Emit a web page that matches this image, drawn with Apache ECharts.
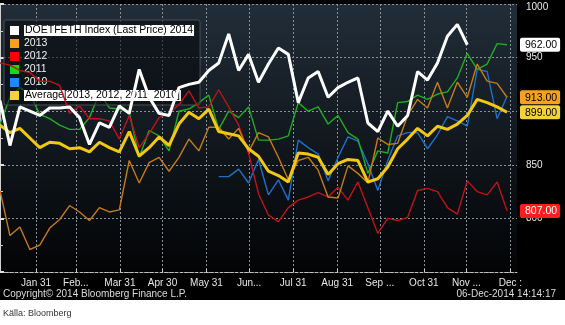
<!DOCTYPE html>
<html><head><meta charset="utf-8">
<script src="https://cdn.jsdelivr.net/npm/echarts@6/dist/echarts.min.js"></script>
<style>html,body{margin:0;padding:0;background:#fff}#c{width:565px;height:325px}</style>
</head><body><div id="c"></div>
<script>
// weekly observation index (week 0 = first week of January)
const weekIndex = Array.from({length: 52}, (_, i) => i);
// month-end day numbers and their labels
const monthEndDays = [31, 59, 90, 120, 151, 181, 212, 243, 273, 304, 334, 365];
const monthLabels = ['Jan 31', 'Feb...', 'Mar 31', 'Apr 30', 'May 31', 'Jun...', 'Jul 31', 'Aug 31', 'Sep ...', 'Oct 31', 'Nov ...', 'Dec :'];
const firstObsDay = 5.6;
const monthTickPos = monthEndDays.map(d => (d - firstObsDay) / 7);

const s2014 = [910,868,904,900,896,903,903,904,894,869,889,885,905,898,939,913,898,896,922,925,927,938,945,972,938,953,927,944,959,953,908,931,937,913,922,927,931,889,881,900,886,896,937,929,945,970,981,962];
const s2013 = [826,784,792,771,775,791,799,812,806,798,810,806,808,854,833,852,857,844,857,874,863,885,885,874,884,862,880,876,857,836,854,857,845,820,819,849,842,833,875,869,870,896,911,903,927,903,927,913,944,928,926,913];
const s2012 = [945,943,938,936,928,928,924,898,905,893,893,891,874,896,866,879,894,898,906,919,903,904,920,904,887,861,823,803,797,810,817,820,824,820,829,817,834,810,786,800,798,801,826,828,825,810,804,835,825,822,834,807];
const s2011 = [888,913,922,916,897,893,887,883,883,894,917,903,902,899,857,882,877,863,900,902,908,915,883,900,894,904,873,873,874,877,908,900,904,888,896,880,874,842,863,861,908,909,915,911,916,918,931,954,939,944,963,962];
const s2010 = [null,null,null,null,null,null,null,null,null,null,null,null,null,null,null,null,null,null,null,null,null,null,839,839,846,833,855,822,836,817,873,866,860,835,857,876,872,851,826,854,877,880,880,865,878,895,891,886,939,937,893,914];
const sAvg = [887,880,884,875,866,871,870,865,866,862,871,866,862,881,858,866,876,868,888,899,893,902,881,879,877,865,858,844,840,834,861,860,857,841,851,855,854,834,837,848,865,874,884,877,886,883,888,896,911,908,904,899];

const yTicks = [750, 800, 850, 900, 950, 1000];

const N2014 = 'DOETFETH Index (Last Price) 2014';
const NAVG = 'Average[2013, 2012, 2011, 2010]';

function pairs(arr) { return arr.map((v, i) => [weekIndex[i], v]); }
function lastVal(arr) { for (let i = arr.length - 1; i >= 0; i--) if (arr[i] != null) return arr[i]; return null; }

const lastLabels = [
  {v: lastVal(s2014), key: 'w'},
  {v: lastVal(s2013), key: 'o'},
  {v: lastVal(sAvg), key: 'y'},
  {v: lastVal(s2012), key: 'r'}
];

const FONT = '"Liberation Sans", Arial, sans-serif';
const chart = echarts.init(document.getElementById('c'), null, {renderer: 'canvas'});

function line(name, data, color, lineColor, width, z) {
  return {
    name, type: 'line', data: pairs(data), showSymbol: false, symbol: 'none',
    itemStyle: {color}, lineStyle: {color: lineColor, width}, z, connectNulls: false,
    emphasis: {disabled: true}, animation: false
  };
}

const boxStyle = (bg, fg) => ({backgroundColor: bg, color: fg, padding: [2, 3, 1, 5], borderRadius: 2, fontSize: 10.5, fontFamily: FONT});

chart.setOption({
  backgroundColor: '#ffffff',
  animation: false,
  textStyle: {fontFamily: FONT},
  graphic: [
    {type: 'rect', shape: {x: 0, y: 0, width: 565, height: 300}, style: {fill: '#000'}, z: -100, silent: true},
    {type: 'text', left: 3, top: 289, style: {text: 'Copyright\u00a9 2014 Bloomberg Finance L.P.', fill: '#dcdcdc', font: '10px ' + FONT}},
    {type: 'text', right: 9, top: 289, style: {text: '06-Dec-2014 14:14:17', fill: '#dcdcdc', font: '10px ' + FONT}},
    {type: 'text', left: 3, top: 309, style: {text: 'Källa: Bloomberg', fill: '#333', font: '9px ' + FONT}}
  ],
  grid: {
    left: 0, right: 48, top: 4, bottom: 53, show: true, borderWidth: 0,
    backgroundColor: {type: 'linear', x: 0, y: 0, x2: 0, y2: 1,
      colorStops: [{offset: 0, color: '#212d38'}, {offset: 0.55, color: '#10161c'}, {offset: 1, color: '#030405'}]}
  },
  legend: {
    orient: 'vertical', left: 4, top: 20, padding: [5, 6, 4, 6],
    itemWidth: 9, itemHeight: 9, itemGap: 2,
    backgroundColor: 'rgba(8,10,12,0.55)', borderColor: '#4a4f55', borderWidth: 1, borderRadius: 2,
    icon: 'rect', selectedMode: false,
    textStyle: {color: '#f0f0f0', fontSize: 10.5, fontFamily: FONT, lineHeight: 11},
    data: [
      {name: N2014, textStyle: {backgroundColor: '#ffffff', color: '#000', padding: [0, 1]}},
      '2013', '2012', '2011', '2010',
      {name: NAVG, textStyle: {backgroundColor: '#ffffff', color: '#000', padding: [0, 1]}}
    ]
  },
  xAxis: {
    type: 'value', min: 0, max: 52,
    axisLine: {show: true, lineStyle: {color: '#bfbfbf', type: [3, 2]}},
    axisTick: {show: true, customValues: monthTickPos, length: 3, inside: true, lineStyle: {color: '#cfcfcf'}},
    axisLabel: {
      customValues: monthTickPos, color: '#e8e8e8', fontSize: 10, margin: 6, fontFamily: FONT,
      formatter: (v) => { let best = 0; monthTickPos.forEach((p, i) => { if (Math.abs(p - v) < Math.abs(monthTickPos[best] - v)) best = i; }); return monthLabels[best]; }
    },
    splitLine: {show: true, lineStyle: {color: '#8a9097', type: [2, 2], width: 1}}
  },
  yAxis: [
    {
      type: 'value', position: 'right', min: 750, max: 1000, interval: 50,
      axisLine: {show: true, lineStyle: {color: '#d0d0d0'}},
      axisTick: {show: true, length: 4, lineStyle: {color: '#e0e0e0', width: 2}},
      minorTick: {show: true, splitNumber: 2, length: 3, lineStyle: {color: '#cfcfcf'}},
      axisLabel: {color: '#e8e8e8', fontSize: 10, margin: 9, fontFamily: FONT,
        formatter: (v) => v === yTicks[0] ? '' : (v === yTicks[yTicks.length - 1] ? '{top|' + v + '}' : String(v)),
        rich: {top: {padding: [7, 0, 0, 0], color: '#e8e8e8', fontSize: 10, fontFamily: FONT}}},
      splitLine: {show: true, lineStyle: {color: '#8a9097', type: [2, 2], width: 1}}
    },
    {
      type: 'value', position: 'right', min: 750, max: 1000,
      axisLine: {show: false}, axisTick: {show: false}, splitLine: {show: false},
      axisLabel: {
        customValues: lastLabels.map(d => d.v), margin: 3, fontSize: 10.5, fontFamily: FONT,
        formatter: (v) => { const d = lastLabels.find(o => o.v === v); return '{' + d.key + '|' + v.toFixed(2) + '}'; },
        rich: {
          w: boxStyle('#ffffff', '#000'),
          o: boxStyle('#f7a21e', '#000'),
          y: boxStyle('#f3d23a', '#000'),
          r: boxStyle('#ff1d1d', '#fff')
        }
      }
    }
  ],
  series: [
    line('2010', s2010, '#1e88ff', '#1f6fc8', 1.4, 2),
    line('2011', s2011, '#10dd10', '#1fae1f', 1.4, 3),
    line('2012', s2012, '#ff0000', '#c0121a', 1.4, 4),
    line('2013', s2013, '#f7a01c', '#c47a16', 1.4, 5),
    line(NAVG, sAvg, '#f5d33a', '#f2c811', 3, 6),
    line(N2014, s2014, '#ffffff', '#ffffff', 3, 7)
  ]
});
</script></body></html>
